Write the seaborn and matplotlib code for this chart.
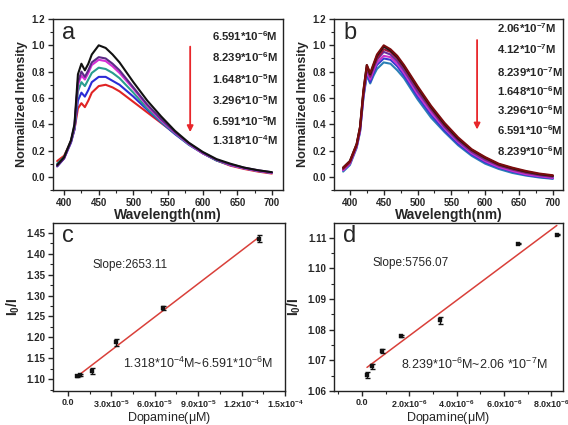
import numpy as np
import pandas as pd
import seaborn as sns
import matplotlib.pyplot as plt
from matplotlib.ticker import MultipleLocator, FixedLocator

sns.set_style('ticks')
plt.rcParams['font.family'] = ['Liberation Sans', 'DejaVu Sans']
plt.rcParams['mathtext.fontset'] = 'custom'
plt.rcParams['mathtext.rm'] = 'Liberation Sans'
plt.rcParams['mathtext.bf'] = 'Liberation Sans:bold'
plt.rcParams['mathtext.it'] = 'Liberation Sans:italic'
plt.rcParams['mathtext.default'] = 'regular'

# wavelength grid (nm) shared by all spectra
wl = [390, 400, 410, 415, 420, 425, 430, 435, 440, 450, 460, 470, 480,
      500, 520, 540, 560, 580, 600, 620, 640, 660, 680, 700]

# panel a spectra, high -> low intensity
a_labels = ['6.591*10$^{-6}$M', '8.239*10$^{-6}$M', '1.648*10$^{-5}$M',
            '3.296*10$^{-5}$M', '6.591*10$^{-5}$M', '1.318*10$^{-4}$M']
a_colors = ['#111111', '#5b2a86', '#d62fd6', '#2a9d8f', '#2b2bd6', '#e02424']
a_black = [0.09, 0.15, 0.28, 0.40, 0.78, 0.86, 0.81, 0.86, 0.93, 1.00, 0.98, 0.93, 0.87,
           0.72, 0.58, 0.46, 0.35, 0.26, 0.19, 0.135, 0.10, 0.07, 0.05, 0.035]
a_purple = [0.08, 0.14, 0.27, 0.39, 0.72, 0.80, 0.76, 0.81, 0.87, 0.91, 0.90, 0.86, 0.81,
            0.68, 0.55, 0.44, 0.34, 0.255, 0.185, 0.13, 0.095, 0.07, 0.05, 0.035]
a_magenta = [0.09, 0.14, 0.27, 0.38, 0.70, 0.77, 0.74, 0.79, 0.85, 0.89, 0.88, 0.84, 0.79,
             0.67, 0.54, 0.43, 0.335, 0.25, 0.18, 0.13, 0.09, 0.065, 0.045, 0.03]
a_teal = [0.10, 0.15, 0.27, 0.37, 0.65, 0.72, 0.69, 0.74, 0.79, 0.83, 0.82, 0.79, 0.75,
          0.64, 0.52, 0.42, 0.33, 0.245, 0.18, 0.125, 0.09, 0.065, 0.045, 0.03]
a_blue = [0.08, 0.14, 0.26, 0.36, 0.58, 0.64, 0.61, 0.66, 0.72, 0.76, 0.76, 0.73, 0.70,
          0.61, 0.51, 0.415, 0.325, 0.245, 0.18, 0.125, 0.09, 0.065, 0.045, 0.03]
a_red = [0.12, 0.16, 0.27, 0.36, 0.52, 0.56, 0.53, 0.58, 0.64, 0.69, 0.70, 0.68, 0.65,
         0.57, 0.49, 0.41, 0.33, 0.25, 0.18, 0.125, 0.085, 0.06, 0.04, 0.025]
a_series = [a_black, a_purple, a_magenta, a_teal, a_blue, a_red]

# panel b spectra, high -> low intensity
b_labels = ['2.06*10$^{-7}$M', '4.12*10$^{-7}$M', '8.239*10$^{-7}$M', '1.648*10$^{-6}$M',
            '3.296*10$^{-6}$M', '6.591*10$^{-6}$M', '8.239*10$^{-6}$M']
b_colors = ['#7a0c0c', '#1a1a1a', '#a3123a', '#6a2c9a', '#cc33cc', '#3a3ad0', '#2a7fb5']
b1 = [0.07, 0.12, 0.25, 0.38, 0.66, 0.85, 0.79, 0.86, 0.93, 1.00, 0.97, 0.92, 0.85,
      0.69, 0.54, 0.41, 0.30, 0.21, 0.15, 0.10, 0.07, 0.045, 0.025, 0.012]
b2 = [0.07, 0.12, 0.25, 0.38, 0.65, 0.85, 0.78, 0.85, 0.92, 0.99, 0.96, 0.91, 0.84,
      0.68, 0.53, 0.40, 0.29, 0.205, 0.145, 0.095, 0.065, 0.04, 0.02, 0.008]
b3 = [0.06, 0.11, 0.24, 0.37, 0.64, 0.83, 0.77, 0.84, 0.90, 0.97, 0.95, 0.90, 0.83,
      0.67, 0.52, 0.39, 0.285, 0.20, 0.14, 0.09, 0.06, 0.035, 0.018, 0.005]
b4 = [0.06, 0.11, 0.24, 0.36, 0.63, 0.82, 0.76, 0.83, 0.89, 0.95, 0.93, 0.88, 0.81,
      0.65, 0.51, 0.38, 0.275, 0.19, 0.13, 0.085, 0.055, 0.03, 0.012, 0.0]
b5 = [0.05, 0.10, 0.23, 0.35, 0.62, 0.80, 0.74, 0.81, 0.87, 0.92, 0.91, 0.86, 0.79,
      0.63, 0.49, 0.37, 0.265, 0.18, 0.12, 0.075, 0.045, 0.02, 0.005, -0.008]
b6 = [0.05, 0.10, 0.23, 0.35, 0.61, 0.79, 0.72, 0.79, 0.85, 0.90, 0.89, 0.84, 0.77,
      0.61, 0.47, 0.35, 0.25, 0.17, 0.11, 0.07, 0.04, 0.015, 0.0, -0.012]
b7 = [0.04, 0.09, 0.22, 0.34, 0.60, 0.77, 0.71, 0.77, 0.82, 0.87, 0.86, 0.81, 0.75,
      0.59, 0.45, 0.34, 0.24, 0.16, 0.10, 0.06, 0.03, 0.01, -0.005, -0.015]
b_series = [b1, b2, b3, b4, b5, b6, b7]

# panel c calibration
c_conc = [6.591e-6, 8.239e-6, 1.648e-5, 3.296e-5, 6.591e-5, 1.318e-4]
c_ratio = [1.108, 1.110, 1.119, 1.188, 1.270, 1.436]
c_err = [0.002, 0.002, 0.007, 0.008, 0.004, 0.008]
c_fit_x = [6.591e-6, 1.318e-4]
c_fit_y = [1.107, 1.439]

# panel d calibration
d_conc = [2.06e-7, 4.12e-7, 8.239e-7, 1.648e-6, 3.296e-6, 6.591e-6, 8.239e-6]
d_ratio = [1.0652, 1.0680, 1.0730, 1.0780, 1.0830, 1.1080, 1.1110]
d_err = [0.0010, 0.0008, 0.0006, 0.0003, 0.0012, 0.0002, 0.0002]
d_fit_x = [2.06e-7, 8.239e-6]
d_fit_y = [1.0677, 1.1140]

W, H = 568, 425
fig = plt.figure(figsize=(W / 100, H / 100), dpi=100)


def box(l, r, t, b):
    return fig.add_axes([l / W, (H - b) / H, (r - l) / W, (b - t) / H])


ax_a = box(53, 283, 19, 190)
ax_b = box(334, 563, 19, 190)
ax_c = box(53, 285, 223, 391)
ax_d = box(334, 563, 223, 391)


def style(ax):
    for s in ax.spines.values():
        s.set_linewidth(1.0)
        s.set_color('#222222')
    ax.tick_params(which='major', direction='out', length=3.5, width=1, labelsize=7,
                   pad=2, top=False, right=False)
    ax.tick_params(which='minor', direction='out', length=2, width=0.8, top=False, right=False)
    for lab in ax.get_xticklabels() + ax.get_yticklabels():
        lab.set_fontweight('bold')


def spectra(ax, series, labels, colors, xlim, lab_x, lab_ys, arrow_x, arrow_y, tag):
    rows = []
    for lab, vals in zip(labels, series):
        for w, v in zip(wl, vals):
            rows.append((w, v, lab))
    df = pd.DataFrame(rows, columns=['wl', 'I', 'conc'])
    sns.lineplot(data=df, x='wl', y='I', hue='conc', palette=colors, hue_order=labels[::-1],
                 linewidth=1.5, legend=False, ax=ax)
    ax.set_xlim(*xlim)
    ax.set_ylim(-0.1, 1.2)
    ax.xaxis.set_major_locator(MultipleLocator(50))
    ax.xaxis.set_minor_locator(MultipleLocator(25))
    ax.yaxis.set_major_locator(MultipleLocator(0.2))
    ax.yaxis.set_minor_locator(MultipleLocator(0.1))
    ax.yaxis.set_major_formatter(plt.FormatStrFormatter('%.1f'))
    ax.set_xlabel('Wavelength(nm)', fontsize=10, fontweight='bold', labelpad=0)
    ax.set_ylabel('Normailized Intensity', fontsize=9, fontweight='bold', labelpad=3)
    for lab, y in zip(labels, lab_ys):
        ax.text(lab_x, y, lab.replace('$^{', '$^{\\mathbf{').replace('}$', '}}$'),
                transform=ax.transAxes, fontsize=8.2, fontweight='bold', va='center')
    ax.annotate('', xy=(arrow_x, arrow_y[1]), xytext=(arrow_x, arrow_y[0]),
                arrowprops=dict(arrowstyle='-|>', color='#e8262a', lw=1.3,
                                mutation_scale=9, shrinkA=0, shrinkB=0))
    ax.text(0.04, 0.92, tag, transform=ax.transAxes, fontsize=17, va='center')
    style(ax)


spectra(ax_a, a_series, a_labels, a_colors[::-1], (384, 716), 0.69,
        [0.90, 0.775, 0.65, 0.525, 0.40, 0.29], 582, (0.99, 0.34), 'a')
spectra(ax_b, b_series, b_labels, b_colors[::-1], (376.5, 715), 0.712,
        [0.947, 0.825, 0.69, 0.579, 0.468, 0.351, 0.228], 588, (1.04, 0.36), 'b')


def calib(ax, conc, ratio, err, fx, fy, xlim, ylim, xticks, xlabels, xminor,
          yticks, yfmt, yminor, slope, rng, pos_s, pos_r, tag):
    sns.lineplot(x=fx, y=fy, color='#d9403a', linewidth=1.1, ax=ax)
    ax.errorbar(conc, ratio, yerr=err, fmt='none', ecolor='#111111', elinewidth=1,
                capsize=1.8, capthick=1)
    sns.scatterplot(x=conc, y=ratio, marker='s', s=12, color='#111111',
                    edgecolor='#111111', ax=ax, zorder=3)
    ax.set_xlim(*xlim)
    ax.set_ylim(*ylim)
    ax.xaxis.set_major_locator(FixedLocator(xticks))
    ax.set_xticklabels(xlabels)
    ax.xaxis.set_minor_locator(MultipleLocator(xminor))
    ax.yaxis.set_major_locator(FixedLocator(yticks))
    ax.yaxis.set_major_formatter(plt.FormatStrFormatter(yfmt))
    ax.yaxis.set_minor_locator(MultipleLocator(yminor))
    ax.set_xlabel('Dopamine($\\mu$M)', fontsize=9, labelpad=0)
    ax.set_ylabel('I$_\\mathbf{0}$/I', fontsize=10, fontweight='bold', labelpad=3)
    ax.text(pos_s[0], pos_s[1], slope, transform=ax.transAxes, fontsize=8.5, va='center')
    ax.text(pos_r[0], pos_r[1], rng, transform=ax.transAxes, fontsize=9, va='center')
    ax.text(0.04, 0.92, tag, transform=ax.transAxes, fontsize=17, va='center')
    style(ax)
    ax.tick_params(axis='x', labelsize=6.5, pad=1.5)


calib(ax_c, c_conc, c_ratio, c_err, c_fit_x, c_fit_y, (-1.03e-5, 1.5e-4), (1.0715, 1.4735),
      [0, 3e-5, 6e-5, 9e-5, 1.2e-4, 1.5e-4],
      ['0.0', '3.0x10$^{-5}$', '6.0x10$^{-5}$', '9.0x10$^{-5}$', '1.2x10$^{-4}$', '1.5x10$^{-4}$'],
      1.5e-5, [1.10, 1.15, 1.20, 1.25, 1.30, 1.35, 1.40, 1.45], '%.2f', 0.025,
      'Slope:2653.11', '1.318*10$^{-4}$M~6.591*10$^{-6}$M', (0.172, 0.749), (0.302, 0.164), 'c')
calib(ax_d, d_conc, d_ratio, d_err, d_fit_x, d_fit_y, (-1.19e-6, 8.5e-6), (1.06, 1.1148),
      [0, 2e-6, 4e-6, 6e-6, 8e-6],
      ['0.0', '2.0x10$^{-6}$', '4.0x10$^{-6}$', '6.0x10$^{-6}$', '8.0x10$^{-6}$'],
      1e-6, [1.06, 1.07, 1.08, 1.09, 1.10, 1.11], '%.2f', 0.005,
      'Slope:5756.07', '8.239*10$^{-6}$M~2.06 *10$^{-7}$M', (0.166, 0.760), (0.293, 0.158), 'd')

fig.savefig('out.png', dpi=100)
